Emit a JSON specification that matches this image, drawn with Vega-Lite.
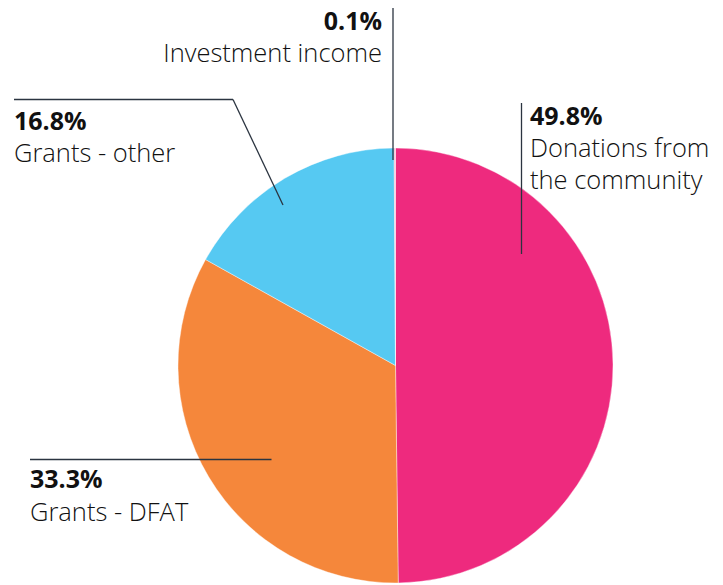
{
  "$schema": "https://vega.github.io/schema/vega-lite/v6.json",
  "width": 723,
  "height": 585,
  "padding": 0,
  "autosize": {"type": "none"},
  "background": "white",
  "config": {"view": {"stroke": null}},
  "datasets": {
    "slices": [
      {"source": "Donations from the community", "pct": 49.8, "ord": 1},
      {"source": "Grants - DFAT", "pct": 33.3, "ord": 2},
      {"source": "Grants - other", "pct": 16.8, "ord": 3},
      {"source": "Investment income", "pct": 0.1, "ord": 4}
    ],
    "leaders": [
      {"seg": "inv", "x": 393, "y": 8, "x2": 393, "y2": 160},
      {"seg": "don", "x": 521.5, "y": 103, "x2": 521.5, "y2": 254},
      {"seg": "oth1", "x": 14, "y": 99.5, "x2": 233, "y2": 99.5},
      {"seg": "oth2", "x": 233, "y": 99.5, "x2": 283, "y2": 205},
      {"seg": "dfat", "x": 30, "y": 459.5, "x2": 271.5, "y2": 459.5}
    ],
    "labels": [
      {"t": "0.1%", "x": 382, "y": 30, "kind": "pct", "side": "right"},
      {"t": "Investment income", "x": 382, "y": 62, "kind": "name", "side": "right"},
      {"t": "49.8%", "x": 530, "y": 125, "kind": "pct", "side": "left"},
      {"t": "Donations from", "x": 530, "y": 157, "kind": "name", "side": "left"},
      {"t": "the community", "x": 530, "y": 189, "kind": "name", "side": "left"},
      {"t": "16.8%", "x": 14, "y": 130, "kind": "pct", "side": "left"},
      {"t": "Grants - other", "x": 14, "y": 162, "kind": "name", "side": "left"},
      {"t": "33.3%", "x": 30, "y": 488, "kind": "pct", "side": "left"},
      {"t": "Grants - DFAT", "x": 30, "y": 521, "kind": "name", "side": "left"}
    ]
  },
  "layer": [
    {
      "data": {"name": "slices"},
      "mark": {"type": "arc", "radius": 217.5, "stroke": "white", "strokeWidth": 0.4},
      "encoding": {
        "x": {"datum": 395.5, "type": "quantitative", "scale": {"domain": [0, 723], "nice": false, "zero": false}, "axis": null},
        "y": {"datum": 365.5, "type": "quantitative", "scale": {"domain": [0, 585], "nice": false, "zero": false, "reverse": true}, "axis": null},
        "theta": {"field": "pct", "type": "quantitative", "stack": true},
        "order": {"field": "ord", "type": "quantitative"},
        "color": {
          "field": "source", "type": "nominal", "legend": null,
          "scale": {
            "domain": ["Donations from the community", "Grants - DFAT", "Grants - other", "Investment income"],
            "range": ["#EE2A7E", "#F5873B", "#56C9F2", "#F7A8C8"]
          }
        }
      }
    },
    {
      "data": {"name": "leaders"},
      "mark": {"type": "rule", "color": "#2B3440", "strokeWidth": 1.3},
      "encoding": {
        "x": {"field": "x", "type": "quantitative"},
        "y": {"field": "y", "type": "quantitative"},
        "x2": {"field": "x2"},
        "y2": {"field": "y2"}
      }
    },
    {
      "data": {"name": "labels"},
      "transform": [{"filter": "datum.kind === 'pct' && datum.side === 'left'"}],
      "mark": {"type": "text", "align": "left", "baseline": "alphabetic", "font": "Open Sans", "fontSize": 25, "fontWeight": "bold", "color": "#111111"},
      "encoding": {
        "x": {"field": "x", "type": "quantitative"},
        "y": {"field": "y", "type": "quantitative"},
        "text": {"field": "t"}
      }
    },
    {
      "data": {"name": "labels"},
      "transform": [{"filter": "datum.kind === 'pct' && datum.side === 'right'"}],
      "mark": {"type": "text", "align": "right", "baseline": "alphabetic", "font": "Open Sans", "fontSize": 25, "fontWeight": "bold", "color": "#111111"},
      "encoding": {
        "x": {"field": "x", "type": "quantitative"},
        "y": {"field": "y", "type": "quantitative"},
        "text": {"field": "t"}
      }
    },
    {
      "data": {"name": "labels"},
      "transform": [{"filter": "datum.kind === 'name' && datum.side === 'left'"}],
      "mark": {"type": "text", "align": "left", "baseline": "alphabetic", "font": "Open Sans", "fontSize": 25.5, "fontWeight": 300, "color": "#111111"},
      "encoding": {
        "x": {"field": "x", "type": "quantitative"},
        "y": {"field": "y", "type": "quantitative"},
        "text": {"field": "t"}
      }
    },
    {
      "data": {"name": "labels"},
      "transform": [{"filter": "datum.kind === 'name' && datum.side === 'right'"}],
      "mark": {"type": "text", "align": "right", "baseline": "alphabetic", "font": "Open Sans", "fontSize": 25.5, "fontWeight": 300, "color": "#111111"},
      "encoding": {
        "x": {"field": "x", "type": "quantitative"},
        "y": {"field": "y", "type": "quantitative"},
        "text": {"field": "t"}
      }
    }
  ]
}
